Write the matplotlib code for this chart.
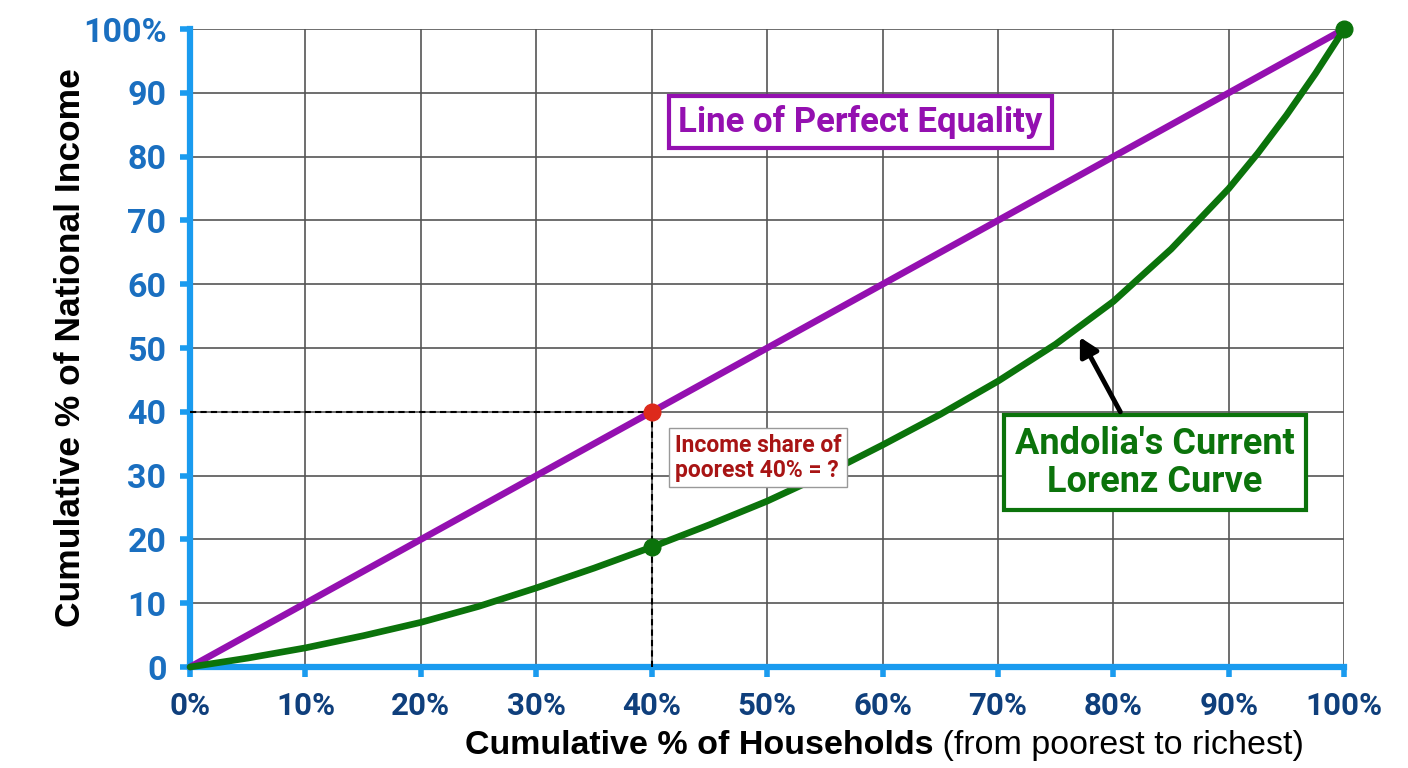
import numpy as np
import matplotlib.pyplot as plt

# data
households = [0, 5, 10, 15, 20, 25, 30, 35, 40, 45, 50, 55, 60, 65, 70, 75, 80, 85, 90, 92.5, 95, 97.5, 100]
lorenz_income = [0, 1.4, 3, 4.9, 7, 9.5, 12.4, 15.5, 18.8, 22.3, 26, 30.2, 34.8, 39.6, 44.8, 50.6, 57.3,
                 65.5, 75, 80.5, 86.5, 93, 100]
equality = [0, 100]
ticks = list(range(0, 101, 10))
xtick_labels = ['%d%%' % t for t in ticks]
ytick_labels = [str(t) for t in ticks[:-1]] + ['100%']
point_x = 40
point_equal = 40
point_lorenz = 18.8

purple = '#9410b0'
green = '#0b730b'
spine_blue = '#1a9bef'

fig = plt.figure(figsize=(14.08, 7.68), dpi=100)
ax = fig.add_axes([0.135, 0.1315, 0.8197, 0.8307])
ax.set_xlim(0, 100)
ax.set_ylim(0, 100)

ax.grid(True, color='#555555', linewidth=1.2)
ax.set_axisbelow(True)
ax.set_xticks(ticks)
ax.set_yticks(ticks)
ax.set_xticklabels(xtick_labels, fontfamily='Roboto', fontweight='bold', fontsize=22.5, color='#0f3f7c')
ax.set_yticklabels(ytick_labels, fontfamily='Roboto', fontweight='bold', fontsize=24.5, color='#1a6fc0')
ax.tick_params(axis='both', direction='out', length=7, width=4, color=spine_blue)
ax.tick_params(axis='x', pad=10)
ax.tick_params(axis='y', pad=10)

for side in ['top', 'right']:
    ax.spines[side].set_visible(False)
for side in ['left', 'bottom']:
    ax.spines[side].set_color(spine_blue)
    ax.spines[side].set_linewidth(4.5)

# dashed guides
ax.plot([0, point_x], [point_equal, point_equal], color='black', linestyle=(0, (3, 2)), linewidth=1.5, zorder=3)
ax.plot([point_x, point_x], [0, point_equal], color='black', linestyle=(0, (3, 2)), linewidth=1.5, zorder=3)

ax.plot(equality, equality, color=purple, linewidth=4.8, solid_capstyle='round', zorder=4, clip_on=False)
ax.plot(households, lorenz_income, color=green, linewidth=4.8, solid_capstyle='round',
        solid_joinstyle='round', zorder=5, clip_on=False)

ax.plot([point_x], [point_equal], 'o', color='#dd2a1c', markersize=12, zorder=6)
ax.plot([point_x], [point_lorenz], 'o', color=green, markersize=12, zorder=6)
ax.plot([100], [100], 'o', color=green, markersize=12, zorder=6, clip_on=False)

ax.text(58.1, 85.4, 'Line of Perfect Equality', fontfamily='Roboto', fontweight='bold', fontsize=25,
        color=purple, ha='center', va='center', zorder=7,
        bbox=dict(boxstyle='square,pad=0.26', facecolor='white', edgecolor=purple, linewidth=3))

ax.text(83.6, 32.0, "Andolia's Current\nLorenz Curve", fontfamily='Roboto', fontweight='bold', fontsize=26,
        color=green, ha='center', va='center', linespacing=1.05, zorder=7,
        bbox=dict(boxstyle='square,pad=0.3', facecolor='white', edgecolor=green, linewidth=3))

ax.text(42.0, 32.8, 'Income share of\npoorest 40% = ?', fontfamily='Roboto', fontweight='bold', fontsize=16.5,
        color='#a81414', ha='left', va='center', linespacing=1.1, zorder=7,
        bbox=dict(boxstyle='square,pad=0.25', facecolor='white', edgecolor='#999999', linewidth=1))

ax.annotate('', xy=(77.1, 51.7), xytext=(80.6, 40.0), zorder=7,
            arrowprops=dict(arrowstyle='-|>,head_length=1.1,head_width=0.6', color='black', linewidth=3.5,
                            shrinkA=0, shrinkB=0))

fig.text(0.05, 0.548, 'Cumulative % of National Income', rotation=90, fontfamily='Liberation Sans',
         fontweight='bold', fontsize=25.5, ha='center', va='center')

xl = fig.text(0.33, 0.018, 'Cumulative % of Households', fontfamily='Liberation Sans', fontweight='bold',
              fontsize=24.5, ha='left', va='baseline')
ax.annotate(' (from poorest to richest)', xy=(1, 0), xycoords=xl, va='bottom', ha='left',
            fontfamily='Liberation Sans', fontsize=24.5, annotation_clip=False)

fig.savefig('out.png', dpi=100)
